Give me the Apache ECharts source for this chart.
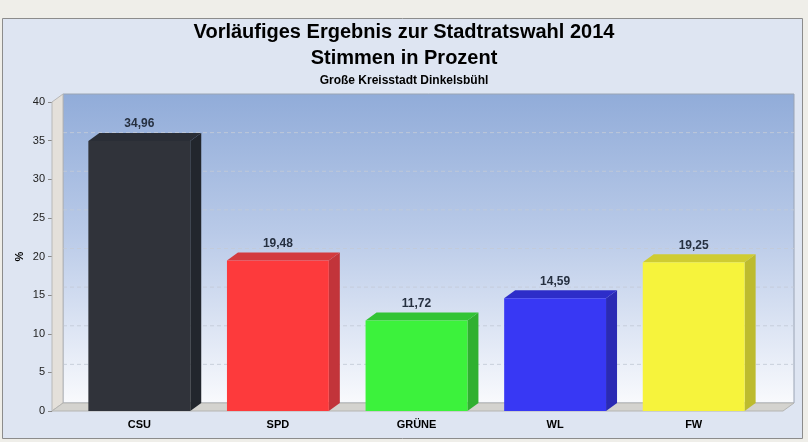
<!DOCTYPE html>
<html>
<head>
<meta charset="utf-8">
<script src="https://cdn.jsdelivr.net/npm/echarts@6/dist/echarts.min.js"></script>
<style>
  html, body { margin: 0; padding: 0; background: #efeee9; }
  #chart { width: 808px; height: 442px; }
</style>
</head>
<body>
<div id="chart"></div>
<script>
const parties = ['CSU', 'SPD', 'GRÜNE', 'WL', 'FW'];
const percents = [34.96, 19.48, 11.72, 14.59, 19.25];
const yTicks = [0, 5, 10, 15, 20, 25, 30, 35, 40];

// front / top / side colours of each bar
const barFront = ['#30333a', '#fd3a3c', '#3cf23c', '#3838f4', '#f6f33c'];
const barTop = ['#2a2e36', '#d33a3e', '#33c435', '#2d2dc9', '#cfcc32'];
const barSide = ['#22262d', '#c2343a', '#30b030', '#2a2ab4', '#bdbb2e'];

const DX = 11, DY = -8;

const chart = echarts.init(document.getElementById('chart'));

// walls + floor + grid lines of the 3d box
function renderBox(params, api) {
  const tl = api.coord([0, 40]);
  const bl = api.coord([0, 0]);
  const br = api.coord([1, 0]);
  const children = [];
  // back wall
  children.push({
    type: 'rect',
    shape: { x: tl[0] + DX, y: tl[1] + DY, width: br[0] - bl[0], height: bl[1] - tl[1] },
    style: {
      fill: new echarts.graphic.LinearGradient(0, 0, 0, 1, [
        { offset: 0, color: '#91acd9' },
        { offset: 0.45, color: '#b9cae8' },
        { offset: 1, color: '#f9fafd' }
      ]),
      stroke: '#9aa4b4', lineWidth: 1
    }
  });
  // dashed lines on back wall
  yTicks.forEach(function (t) {
    if (t === 0 || t === 40) return;
    const p = api.coord([0, t]);
    const q = api.coord([1, t]);
    children.push({
      type: 'line',
      shape: { x1: p[0] + DX, y1: p[1] + DY, x2: q[0] + DX, y2: q[1] + DY },
      style: { stroke: 'rgba(195,202,215,0.85)', lineWidth: 1, lineDash: [4, 3] }
    });
  });
  // left wall
  children.push({
    type: 'polygon',
    shape: { points: [[tl[0], tl[1]], [tl[0] + DX, tl[1] + DY], [bl[0] + DX, bl[1] + DY], [bl[0], bl[1]]] },
    style: { fill: '#e4e0da', stroke: '#b8b8b8', lineWidth: 1 }
  });
  // floor
  children.push({
    type: 'polygon',
    shape: { points: [[bl[0], bl[1]], [bl[0] + DX, bl[1] + DY], [br[0] + DX, br[1] + DY], [br[0], br[1]]] },
    style: { fill: '#d4d3cf', stroke: '#b5b5b2', lineWidth: 1 }
  });
  return { type: 'group', children: children };
}

function renderBar(params, api) {
  const i = api.value(0);
  const v = api.value(1);
  const top = api.coord([i, v]);
  const base = api.coord([i, 0]);
  const band = api.size([1, 0])[0];
  const w = band * 0.735;
  const x0 = top[0] - w / 2, x1 = top[0] + w / 2;
  const y0 = top[1], y1 = base[1];
  return {
    type: 'group',
    children: [
      {
        type: 'polygon',
        shape: { points: [[x1, y0], [x1 + DX, y0 + DY], [x1 + DX, y1 + DY], [x1, y1]] },
        style: { fill: barSide[i] }
      },
      {
        type: 'polygon',
        shape: { points: [[x0, y0], [x0 + DX, y0 + DY], [x1 + DX, y0 + DY], [x1, y0]] },
        style: { fill: barTop[i] }
      },
      {
        type: 'rect',
        shape: { x: x0, y: y0, width: w, height: y1 - y0 },
        style: { fill: barFront[i] }
      },
      {
        type: 'text',
        style: {
          x: top[0], y: y0 + DY - 9,
          text: v.toFixed(2).replace('.', ','),
          fill: '#263040',
          font: 'bold 12px "Liberation Sans", Arial, sans-serif',
          align: 'center', verticalAlign: 'middle'
        }
      }
    ]
  };
}

const option = {
  animation: false,
  backgroundColor: '#efeee9',
  graphic: [
    {
      type: 'rect', z: -10, silent: true,
      shape: { x: 2.5, y: 18.5, width: 800, height: 420 },
      style: { fill: '#dee5f2', stroke: '#8c8c8c', lineWidth: 1 }
    }
  ],
  title: {
    text: 'Vorläufiges Ergebnis zur Stadtratswahl 2014\nStimmen in Prozent',
    subtext: 'Große Kreisstadt Dinkelsbühl',
    left: 'center',
    top: 14,
    itemGap: 3,
    textStyle: {
      fontFamily: '"Liberation Sans", Arial, sans-serif',
      fontSize: 20, fontWeight: 'bold', color: '#000', lineHeight: 26
    },
    subtextStyle: {
      fontFamily: '"Liberation Sans", Arial, sans-serif',
      fontSize: 12, fontWeight: 'bold', color: '#000', lineHeight: 13
    }
  },
  grid: [
    { left: 52, right: 25, top: 102, bottom: 31 },
    { left: 70, right: 45, top: 102, bottom: 31 }
  ],
  xAxis: [
    { gridIndex: 0, type: 'value', min: 0, max: 1, show: false },
    {
      gridIndex: 1, type: 'category', data: parties,
      axisLine: { show: false }, axisTick: { show: false },
      axisLabel: {
        margin: 8, color: '#000', fontSize: 11, fontWeight: 'bold',
        fontFamily: '"Liberation Sans", Arial, sans-serif'
      }
    }
  ],
  yAxis: [
    {
      gridIndex: 0, type: 'value', min: 0, max: 40, interval: 5,
      name: '%', nameLocation: 'middle', nameGap: 27, nameMoveOverlap: false,
      nameTextStyle: { fontSize: 11, fontWeight: 'bold', color: '#000', fontFamily: '"Liberation Sans", Arial, sans-serif' },
      axisLine: { show: false },
      axisTick: { show: true, length: 4, lineStyle: { color: '#8a8a8a' } },
      axisLabel: { margin: 7, fontSize: 11, color: '#222', fontFamily: '"Liberation Sans", Arial, sans-serif' },
      splitLine: { show: false }
    },
    { gridIndex: 1, type: 'value', min: 0, max: 40, show: false }
  ],
  series: [
    {
      type: 'custom', xAxisIndex: 0, yAxisIndex: 0, z: 1, silent: true,
      clip: false, data: [[0, 0]], renderItem: renderBox
    },
    {
      type: 'custom', xAxisIndex: 1, yAxisIndex: 1, z: 5,
      clip: false, encode: { x: 0, y: 1 },
      data: percents.map(function (v, i) { return [i, v]; }),
      renderItem: renderBar
    }
  ]
};

chart.setOption(option);
</script>
</body>
</html>
